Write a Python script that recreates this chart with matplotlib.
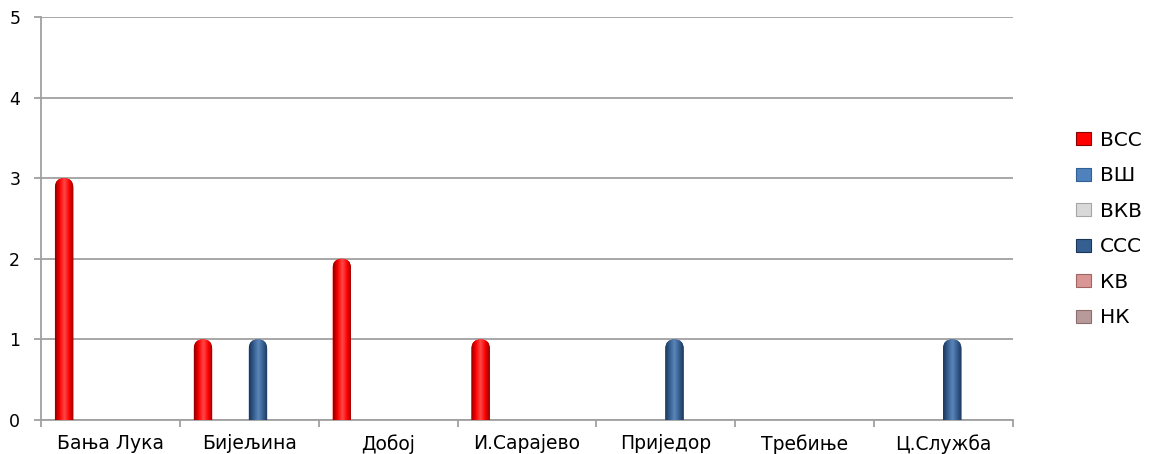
import numpy as np
import matplotlib
matplotlib.use("Agg")
import matplotlib.pyplot as plt
from matplotlib.patches import FancyBboxPatch, Patch
from matplotlib.colors import LinearSegmentedColormap

plt.rcParams['font.family'] = ['DejaVu Sans']

cities = ["Бања Лука", "Бијељина", "Добој", "И.Сарајево", "Приједор", "Требиње", "Ц.Служба"]
series_names = ["ВСС", "ВШ", "ВКВ", "ССС", "КВ", "НК"]
vss = [3, 1, 2, 1, 0, 0, 0]
vsh = [0, 0, 0, 0, 0, 0, 0]
vkv = [0, 0, 0, 0, 0, 0, 0]
sss = [0, 1, 0, 0, 1, 0, 1]
kv = [0, 0, 0, 0, 0, 0, 0]
nk = [0, 0, 0, 0, 0, 0, 0]
values = [vss, vsh, vkv, sss, kv, nk]

# dark edge, light highlight, base colour for each series
shades = [
    ("#8b0000", "#ff4a4a", "#ff0000"),
    ("#2f5f95", "#9cc3ec", "#4f81bd"),
    ("#a6a6a6", "#f2f2f2", "#d9d9d9"),
    ("#1b3558", "#5e86b8", "#365f91"),
    ("#a06563", "#efc9c8", "#d99694"),
    ("#8c6d6d", "#dcc4c4", "#b89a9a"),
]

fig = plt.figure(figsize=(11.53, 4.54), dpi=100)
ax = fig.add_axes([0.0356, 0.0749, 0.8430, 0.8877])

x = np.arange(len(cities))
w = 0.132
ax.set_xlim(-0.5, len(cities) - 0.5)
ax.set_ylim(0, 5)

pos = ax.get_position()
fig_w, fig_h = fig.get_size_inches() * fig.dpi
# data units per pixel in y / x, used for round caps
ypp = 5 / (pos.height * fig_h)
xpp = len(cities) / (pos.width * fig_w)
aspect = ypp / xpp

for i, (name, vals) in enumerate(zip(series_names, values)):
    dark, light, base = shades[i]
    cmap = LinearSegmentedColormap.from_list(name, [dark, base, light, base, dark])
    for xi, v in zip(x, vals):
        if v <= 0:
            continue
        left = xi - 0.5 + 0.10 + i * w
        r = w / 2
        patch = FancyBboxPatch((left, -r * aspect * 2), w, v + r * aspect * 2,
                               boxstyle=f"round,pad=0,rounding_size={r}",
                               mutation_aspect=aspect, linewidth=0,
                               facecolor=base, zorder=3)
        ax.add_patch(patch)
        grad = np.linspace(0, 1, 64).reshape(1, -1)
        im = ax.imshow(grad, cmap=cmap, extent=(left, left + w, 0, v + 0.01),
                       aspect="auto", zorder=4, interpolation="bicubic")
        im.set_clip_path(patch)

ax.set_xlim(-0.5, len(cities) - 0.5)
ax.set_ylim(0, 5)

ax.set_yticks(range(0, 6))
ax.yaxis.grid(True, color="#a0a0a0", linewidth=1.3)
ax.set_axisbelow(True)
ax.set_xticks(x)
ax.set_xticklabels(cities, fontsize=13.5)
ax.set_xticks(np.arange(-0.5, len(cities)), minor=True)
ax.tick_params(axis="x", which="major", length=0, pad=10)
ax.tick_params(axis="x", which="minor", length=5, color="#a0a0a0", width=1.3)
ax.tick_params(axis="y", length=5, color="#a0a0a0", width=1.3, labelsize=12.5, pad=10)
for s in ["top", "right"]:
    ax.spines[s].set_visible(False)
for s in ["left", "bottom"]:
    ax.spines[s].set_color("#a0a0a0")
    ax.spines[s].set_linewidth(1.3)

handles = [Patch(facecolor=shades[i][2], edgecolor=shades[i][0], linewidth=0.8)
           for i in range(len(series_names))]
fig.legend(handles, series_names, loc="center left", bbox_to_anchor=(0.933, 0.4956),
           frameon=False, fontsize=14.5, handlelength=0.75, handleheight=0.6,
           labelspacing=0.82, handletextpad=0.45, borderaxespad=0, borderpad=0)

fig.savefig("out.png", dpi=100)
